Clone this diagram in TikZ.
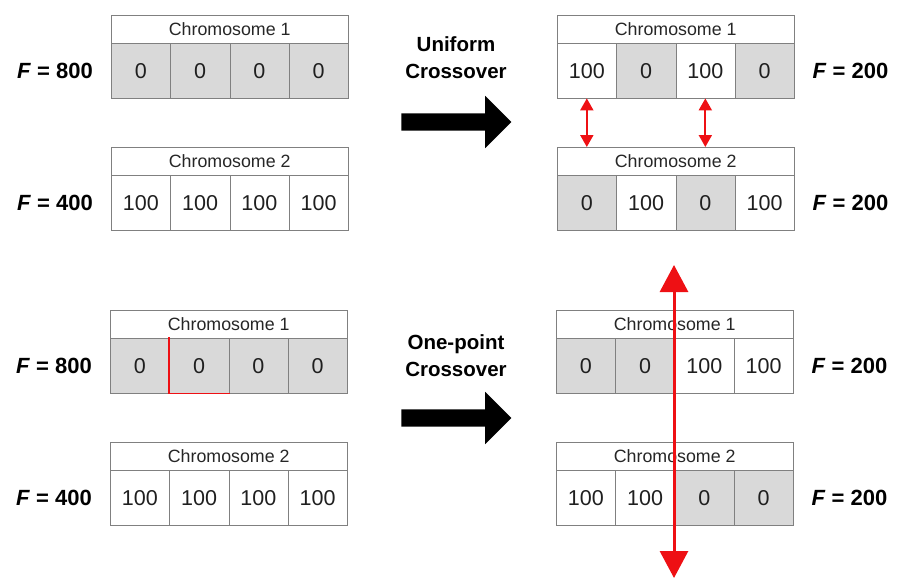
\documentclass[tikz,border=0pt]{standalone}
\usepackage{fontspec}
\setmainfont{Liberation Sans}
\usetikzlibrary{arrows.meta, shapes.arrows, positioning}

\definecolor{genegray}{RGB}{217,217,217}
\definecolor{linegray}{RGB}{128,128,128}
\definecolor{cutred}{RGB}{238,16,20}

\tikzset{
    gene/.style={draw=linegray, minimum width=59.25pt, minimum height=55pt, inner sep=0pt,
        anchor=north west, text=black!88, font=\fontsize{21.5}{24}\selectfont},
    g0/.style={gene, fill=genegray},
    g1/.style={gene, fill=white},
    titlebox/.style={draw=linegray, minimum width=237pt, minimum height=28pt, inner sep=0pt,
        anchor=north west, text=black!85, font=\fontsize{17.8}{20}\selectfont},
    fitness/.style={inner sep=0pt, font=\bfseries\fontsize{22}{24}\selectfont},
    method/.style={align=center, font=\bfseries\fontsize{20.5}{27}\selectfont},
    bigarrow/.style={single arrow, fill=black, minimum height=110pt, inner xsep=0pt,
        inner ysep=8.5pt, single arrow head extend=17.5pt, single arrow tip angle=90},
    swap/.style={cutred, line width=2pt, {Triangle[width=13pt,length=12pt]}-{Triangle[width=13pt,length=12pt]}},
    cut/.style={cutred, line width=3pt, {Triangle[width=28pt,length=27pt]}-{Triangle[width=28pt,length=27pt]}}
}

% chromosome: name, x, y, title, style/value of the four genes
\newcommand{\chromosome}[5]{
    \node[titlebox] (#1) at (#2,#3) {#4};
    \foreach \s/\v [count=\i] in {#5}
        \node[\s] (#1-\i) at ({#2+(\i-1)*59.25},{#3+28}) {\v};
}

\begin{document}
\begin{tikzpicture}[x=1pt, y=-1pt]
    \useasboundingbox (0,0) rectangle (905,586);

    % uniform crossover
    \chromosome{ua}{111}{15}{Chromosome 1}{g0/0, g0/0, g0/0, g0/0}
    \chromosome{ub}{111}{147}{Chromosome 2}{g1/100, g1/100, g1/100, g1/100}
    \chromosome{uc}{557}{15}{Chromosome 1}{g1/100, g0/0, g1/100, g0/0}
    \chromosome{ud}{557}{147}{Chromosome 2}{g0/0, g1/100, g0/0, g1/100}

    \node[fitness, left=18pt of ua-1] (fua) {\textit{F} = 800};
    \node[fitness, left=18pt of ub-1] (fub) {\textit{F} = 400};
    \node[fitness, right=18pt of uc-4] (fuc) {\textit{F} = 200};
    \node[fitness, right=18pt of ud-4] (fud) {\textit{F} = 200};

    \node[method] (uni) at (456,58) {Uniform\\Crossover};
    \node[bigarrow] (uarr) at (452,122) {};

    \draw[swap] (uc-1.south) -- (uc-1.south |- ud.north);
    \draw[swap] (uc-3.south) -- (uc-3.south |- ud.north);

    % one-point crossover
    \chromosome{oa}{110}{310}{Chromosome 1}{g0/0, g0/0, g0/0, g0/0}
    \chromosome{ob}{110}{442}{Chromosome 2}{g1/100, g1/100, g1/100, g1/100}
    \chromosome{oc}{556}{310}{Chromosome 1}{g0/0, g0/0, g1/100, g1/100}
    \chromosome{od}{556}{442}{Chromosome 2}{g1/100, g1/100, g0/0, g0/0}

    \node[fitness, left=18pt of oa-1] (foa) {\textit{F} = 800};
    \node[fitness, left=18pt of ob-1] (fob) {\textit{F} = 400};
    \node[fitness, right=18pt of oc-4] (foc) {\textit{F} = 200};
    \node[fitness, right=18pt of od-4] (fod) {\textit{F} = 200};

    \node[method] (one) at (456,356) {One-point\\Crossover};
    \node[bigarrow] (oarr) at (452,418) {};

    % red edge on the second gene
    \draw[cutred, line width=1.6pt, line cap=rect] (oa-2.north west) -- (oa-2.south west) -- (oa-2.south east);

    \coordinate (ctop) at (674,265);
    \coordinate (cbot) at (674,578);
    \draw[cut] (ctop) -- (cbot);
\end{tikzpicture}
\end{document}
